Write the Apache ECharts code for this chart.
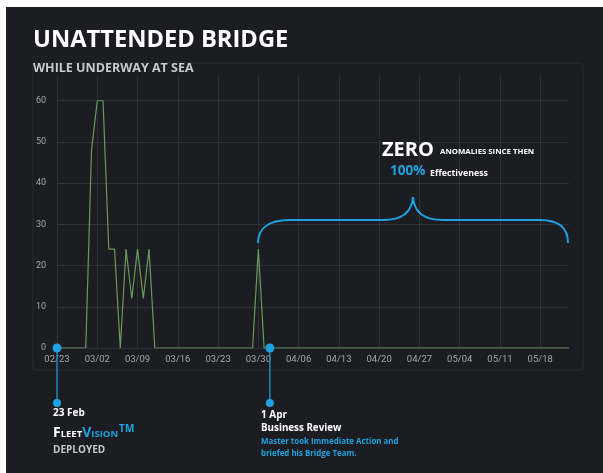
<!DOCTYPE html>
<html>
<head>
<meta charset="utf-8">
<script src="https://cdn.jsdelivr.net/npm/echarts@6/dist/echarts.min.js"></script>
<style>
  html, body { margin: 0; padding: 0; background: #fff; }
  #main { position: absolute; left: 6px; top: 7px; width: 597px; height: 466px; background: #1b1d22; }
</style>
</head>
<body>
<div id="main"></div>
<script>
// daily categories, 23 Feb -> 23 May
var dates = [
  "02/23", "02/24", "02/25", "02/26", "02/27", "02/28",
  "03/01", "03/02", "03/03", "03/04", "03/05", "03/06", "03/07", "03/08", "03/09", "03/10",
  "03/11", "03/12", "03/13", "03/14", "03/15", "03/16", "03/17", "03/18", "03/19", "03/20",
  "03/21", "03/22", "03/23", "03/24", "03/25", "03/26", "03/27", "03/28", "03/29", "03/30",
  "03/31", "04/01", "04/02", "04/03", "04/04", "04/05", "04/06", "04/07", "04/08", "04/09",
  "04/10", "04/11", "04/12", "04/13", "04/14", "04/15", "04/16", "04/17", "04/18", "04/19",
  "04/20", "04/21", "04/22", "04/23", "04/24", "04/25", "04/26", "04/27", "04/28", "04/29",
  "04/30", "05/01", "05/02", "05/03", "05/04", "05/05", "05/06", "05/07", "05/08", "05/09",
  "05/10", "05/11", "05/12", "05/13", "05/14", "05/15", "05/16", "05/17", "05/18", "05/19",
  "05/20", "05/21", "05/22", "05/23"
];

// unattended bridge events per day
var events = [
  0, 0, 0, 0, 0, 0,
  48, 60, 60, 24, 24, 0, 24, 12, 24, 12,
  24, 0, 0, 0, 0, 0, 0, 0, 0, 0,
  0, 0, 0, 0, 0, 0, 0, 0, 0, 24,
  0, 0, 0, 0, 0, 0, 0, 0, 0, 0,
  0, 0, 0, 0, 0, 0, 0, 0, 0, 0,
  0, 0, 0, 0, 0, 0, 0, 0, 0, 0,
  0, 0, 0, 0, 0, 0, 0, 0, 0, 0,
  0, 0, 0, 0, 0, 0, 0, 0, 0, 0,
  0, 0, 0, 0
];

// milestones marked under the axis
var milestones = ["02/23", "04/01"];

var BLUE = "#1fa2df";
var chart = echarts.init(document.getElementById("main"));

var txt = function (x, y, text, size, color) {
  return {
    type: "text", x: x, y: y, z: 20,
    style: {
      text: text, fill: color,
      font: "bold " + size + "px 'Open Sans'",
      verticalAlign: "middle"
    }
  };
};

chart.setOption({
  backgroundColor: "#1b1d22",
  animation: false,
  grid: { left: 51, right: 34, top: 69, bottom: 125, outerBoundsMode: "none" },
  xAxis: {
    type: "category",
    data: dates,
    boundaryGap: false,
    axisLine: { show: false },
    axisTick: { show: false },
    axisLabel: { interval: 6, color: "#a0a5ad", fontSize: 9.5, fontFamily: "Roboto", margin: 7 },
    splitLine: { show: true, interval: 6, lineStyle: { color: "#2c3037", width: 1 } }
  },
  yAxis: {
    type: "value",
    min: 0,
    max: 66,
    interval: 10,
    axisLine: { show: false },
    axisTick: { show: false },
    axisLabel: { color: "#a0a5ad", fontSize: 9, fontFamily: "Roboto", margin: 11, showMaxLabel: false },
    splitLine: { show: true, showMaxLine: false, lineStyle: { color: "#2c3037", width: 1 } }
  },
  series: [{
    type: "line",
    data: events,
    symbol: "none",
    lineStyle: { color: "#6a9a5a", width: 1.2 },
    z: 3
  }]
});

// annotations anchored to the milestone dates
var g = [];
g.push({
  type: "rect", shape: { x: 27, y: 56, width: 550, height: 307, r: 4 },
  style: { fill: null, stroke: "#2a2d34", lineWidth: 1 }, z: -1, silent: true
});
milestones.forEach(function (d) {
  var p = chart.convertToPixel({ gridIndex: 0 }, [d, 0]);
  g.push({ type: "line", shape: { x1: p[0], y1: p[1], x2: p[0], y2: 396 }, style: { stroke: "#1a88bd", lineWidth: 1.5 }, z: 10 });
  g.push({ type: "circle", shape: { cx: p[0], cy: p[1], r: 4.5 }, style: { fill: BLUE }, z: 11 });
  g.push({ type: "circle", shape: { cx: p[0], cy: 396, r: 4 }, style: { fill: BLUE }, z: 11 });
});

// brace over the zero-anomaly period
var braceStyle = { fill: null, stroke: BLUE, lineWidth: 2 };
[
  { x1: 252, y1: 236, cpx1: 252, cpy1: 222, cpx2: 262, cpy2: 213, x2: 284, y2: 213 },
  { x1: 377, y1: 213, cpx1: 397, cpy1: 213, cpx2: 406, cpy2: 205, x2: 407, y2: 190 },
  { x1: 407, y1: 190, cpx1: 408, cpy1: 205, cpx2: 417, cpy2: 213, x2: 437, y2: 213 },
  { x1: 534, y1: 213, cpx1: 554, cpy1: 213, cpx2: 562, cpy2: 222, x2: 562, y2: 236 }
].forEach(function (s) {
  g.push({ type: "bezierCurve", shape: s, style: braceStyle, z: 10 });
});
g.push({ type: "line", shape: { x1: 284, y1: 213, x2: 377, y2: 213 }, style: braceStyle, z: 10 });
g.push({ type: "line", shape: { x1: 437, y1: 213, x2: 534, y2: 213 }, style: braceStyle, z: 10 });

g.push(txt(27, 33, "UNATTENDED BRIDGE", 23.7, "#ffffff"));
g.push(txt(27, 61, "WHILE UNDERWAY AT SEA", 12.5, "#c8cacf"));
g.push(txt(376, 143, "ZERO", 20, "#ffffff"));
g.push(txt(434, 145, "ANOMALIES SINCE THEN", 7.8, "#ffffff"));
g.push(txt(384, 164, "100%", 13.5, BLUE));
g.push(txt(424, 166, "Effectiveness", 8.8, "#ffffff"));

g.push(txt(47, 406, "23 Feb", 10, "#ffffff"));
var big = { fontFamily: "Open Sans", fontWeight: "bold", fontSize: 14, verticalAlign: "bottom", lineHeight: 16 };
var small = { fontFamily: "Open Sans", fontWeight: "bold", fontSize: 9.5, verticalAlign: "bottom", lineHeight: 16, padding: [0, 0, 1, 0] };
g.push({
  type: "text", x: 47, y: 433, z: 20,
  style: {
    text: "{a|F}{b|LEET}{c|V}{d|ISION}{e|TM}",
    verticalAlign: "bottom",
    fill: "#ffffff",
    rich: {
      a: Object.assign({ fill: "#ffffff" }, big),
      b: Object.assign({ fill: "#ffffff" }, small),
      c: Object.assign({ fill: BLUE }, big),
      d: Object.assign({ fill: BLUE }, small),
      e: { fill: BLUE, fontFamily: "Open Sans", fontWeight: "bold", fontSize: 10, verticalAlign: "top", lineHeight: 16, padding: [0, 0, 0, 1] }
    }
  }
});
g.push(txt(47, 443.5, "DEPLOYED", 10, "#c4c6cb"));

g.push(txt(255, 408.5, "1 Apr", 10, "#ffffff"));
g.push(txt(255, 421.5, "Business Review", 9.8, "#ffffff"));
g.push(txt(255, 434.5, "Master took Immediate Action and", 7.9, BLUE));
g.push(txt(255, 446.5, "briefed his Bridge Team.", 7.9, BLUE));

chart.setOption({ graphic: g });
</script>
</body>
</html>
